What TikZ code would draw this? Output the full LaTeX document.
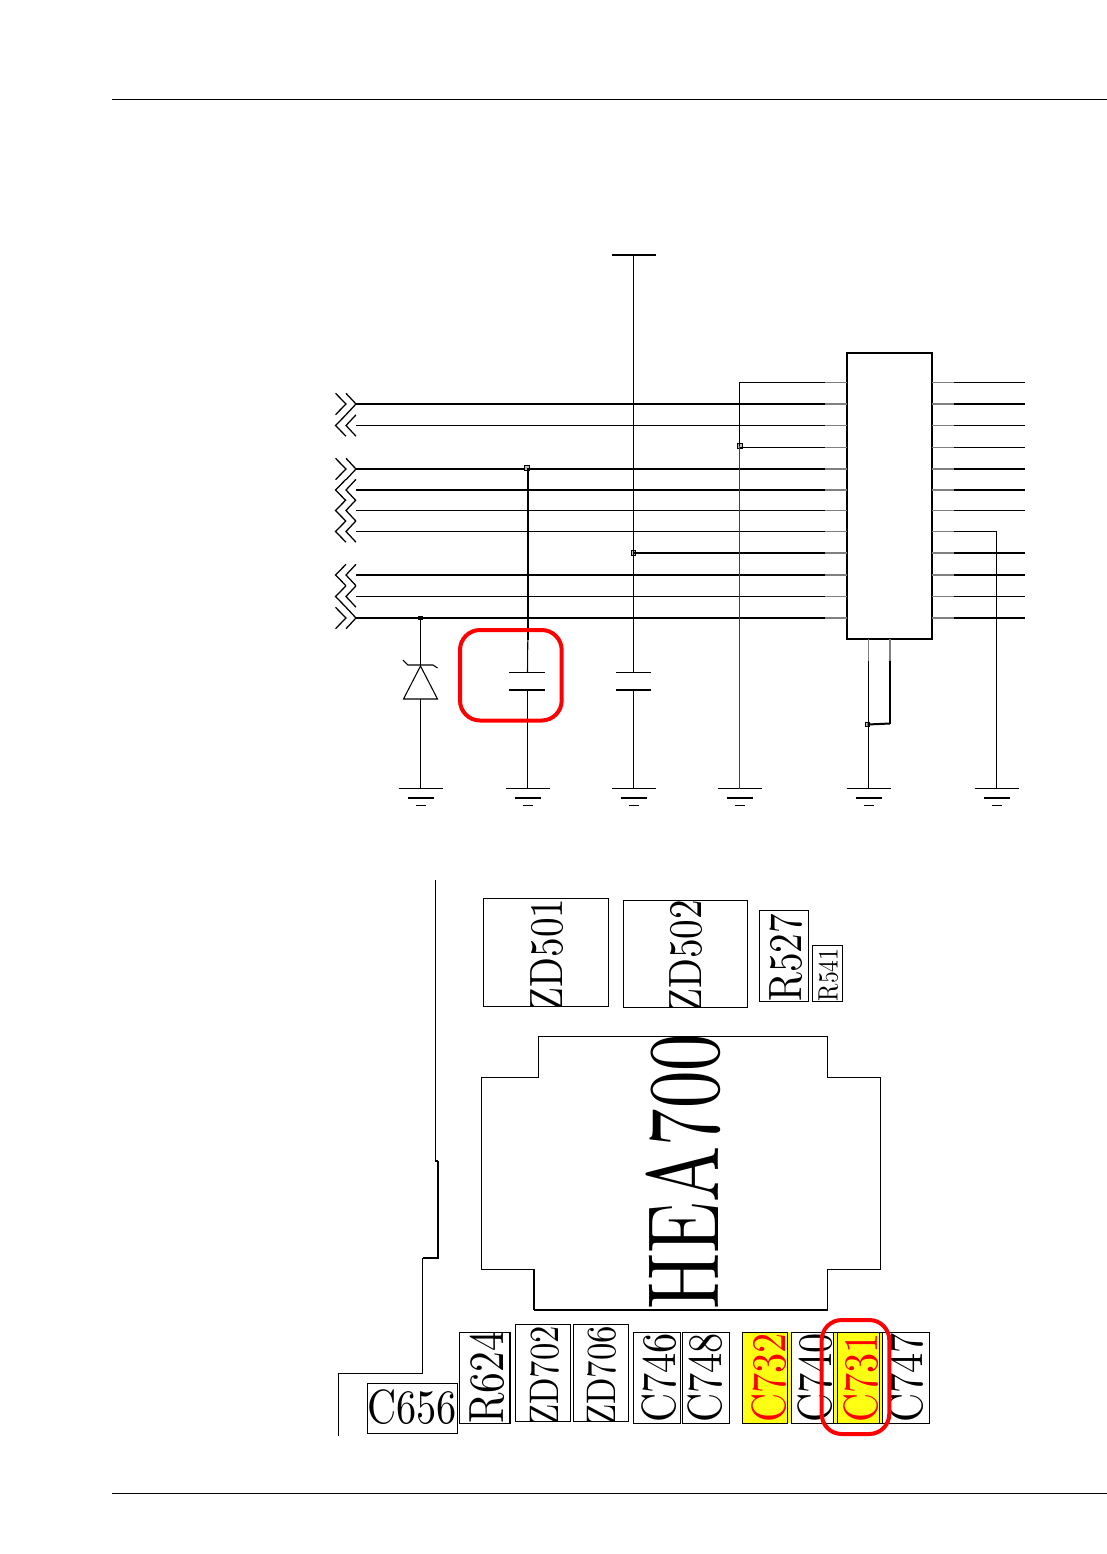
\documentclass[tikz,border=0pt]{standalone}
\definecolor{markyellow}{RGB}{255,255,20}
\tikzset{
    wire/.style={line width=0.8pt},
    bus/.style={line width=1.5pt},
    stub/.style={line width=0.9pt, black!50},
    chevron/.style={line width=0.95pt},
    joint/.style={shape=rectangle, draw, fill=black!25, line width=0.85pt, inner sep=0pt, minimum size=3.2pt},
    ringmark/.style={draw=red, line width=3pt, rounded corners=15pt},
    partbox/.style={line width=0.75pt},
    partlabel/.style={rotate=90, xscale=0.84, inner sep=0pt, anchor=base west},
}
\newcommand{\sizedlabel}[2]{\scalebox{#1}{\fontsize{10}{10}\selectfont #2}}
\begin{document}
\begin{tikzpicture}[x=0.75pt, y=-0.75pt]
    \useasboundingbox (0,0) rectangle (1107,1554);

    % page rules
    \coordinate (ruleAl) at (112,99.5);
    \coordinate (ruleAr) at (1107,99.5);
    \coordinate (ruleBl) at (112,1493.5);
    \coordinate (ruleBr) at (1107,1493.5);
    \draw[wire] (ruleAl) -- (ruleAr);
    \draw[wire] (ruleBl) -- (ruleBr);

    % chip
    \node[draw, line width=0.9pt, minimum width=63.75pt, minimum height=214.5pt, inner sep=0pt] (chip) at (889.5,496) {};

    % rows on both sides of the chip
    \foreach \y/\kind [count=\r] in {382.5/wire,404/bus,425.5/wire,447.5/wire,469/bus,490/bus,510.5/wire,531.5/wire,553/bus,575/bus,596.5/wire,618/bus} {
        \coordinate (pl\r) at (847,\y);
        \coordinate (ql\r) at (825,\y);
        \coordinate (pr\r) at (932,\y);
        \coordinate (qr\r) at (954,\y);
        \coordinate (er\r) at (1025,\y);
        \coordinate (el\r) at (356,\y);
        \draw[stub] (pl\r) -- (ql\r);
        \draw[stub] (pr\r) -- (qr\r);
    };
    \foreach \r/\kind in {1/wire,2/bus,3/wire,4/wire,5/bus,6/bus,7/wire,9/bus,10/bus,11/wire,12/bus} {
        \draw[\kind] (qr\r) -- (er\r);
    };

    % left side wires and connectors
    \foreach \r/\kind in {2/bus,3/wire,5/bus,6/bus,7/wire,8/wire,10/bus,11/wire,12/bus} {
        \draw[\kind] (el\r) -- (ql\r);
    };
    \foreach \r in {2,5,12} {
        \draw[chevron, shift={(el\r)}] (-20.5,-10.7) -- (-10,0) -- (-20.5,10.7);
        \draw[chevron, shift={(el\r)}] (-10,-10.7) -- (0,0) -- (-10,10.7);
    };
    \foreach \r in {3,6,7,8,10,11} {
        \draw[chevron, shift={(el\r)}] (-10,-10.7) -- (-20.5,0) -- (-10,10.7);
        \draw[chevron, shift={(el\r)}] (0,-10.7) -- (-10,0) -- (0,10.7);
    };

    % grounds
    \foreach \name/\x in {gA/420.5,gB/527.5,gC/633.5,gD/739.5,gE/868.5,gF/996.5} {
        \coordinate (\name) at (\x,788.5);
        \draw[wire, shift={(\name)}] (-22,0) -- (22,0);
        \draw[wire, shift={(\name)}] (-13,9.5) -- (13,9.5);
        \draw[wire, shift={(\name)}] (-5,17) -- (5,17);
    };

    % zener
    \node[shape=rectangle, fill=black, inner sep=0pt, minimum width=3.8pt, minimum height=2.4pt] (jZ) at (420.5,618) {};
    \coordinate (zTip) at (420.5,666);
    \coordinate (zBase) at (420.5,699);
    \draw[wire] (jZ.center) -- (zTip);
    \draw[wire] (zTip) -- (437.5,699) -- (403.5,699) -- cycle;
    \draw[wire] (403,660) -- (408,665) -- (433,665) -- (437.5,668);
    \draw[wire] (zBase) -- (gA);

    % first capacitor
    \node[joint] (jB) at (527,468) {};
    \coordinate (bTop) at (527.8,468);
    \coordinate (bA) at (527.8,640);
    \coordinate (bB) at (527.5,672.5);
    \coordinate (bC) at (527.5,690);
    \draw[bus] (bTop) -- (bA);
    \draw[wire] (bA) -- (bB);
    \draw[wire] (509,672.5) -- (545,672.5);
    \draw[wire] (509,690) -- (545,690);
    \draw[wire] (bC) -- (gB);

    % second capacitor and supply bar
    \coordinate (cTop) at (633.5,255);
    \coordinate (cA) at (633.5,672.5);
    \coordinate (cB) at (633.5,690);
    \node[joint] (jC) at (633.5,553) {};
    \draw[wire] (612,255) -- (656,255);
    \draw[wire] (cTop) -- (cA);
    \draw[wire] (616,672.5) -- (651,672.5);
    \draw[wire] (616,690) -- (651,690);
    \draw[wire] (cB) -- (gC);
    \draw[bus] (jC.center) -- (ql9);

    % ground rail
    \node[joint] (jD) at (740,446) {};
    \draw[wire] (ql1) -- (739.5,382.5) -- (739.5,446);
    \draw[wire] (jD.center |- ql4) -- (ql4);
    \draw[line width=0.9pt, black!75] (739.5,446) -- (gD);

    % chip bottom pins
    \coordinate (pinA) at (868.5,639);
    \coordinate (pinB) at (890,639);
    \coordinate (pinAe) at (868.5,661);
    \coordinate (pinBe) at (890,661);
    \node[joint] (jE) at (867.5,724.5) {};
    \draw[stub] (pinA) -- (pinAe);
    \draw[stub] (pinB) -- (pinBe);
    \draw[wire] (pinAe) -- (gE);
    \draw[wire] (pinBe) -- (890,723.5);
    \draw[bus] (890,723.5) -- (jE.center);

    % right return to ground
    \draw[wire] (qr8) -- (996.5,531.5) -- (gF);

    % rings
    \draw[ringmark] (460,630) rectangle (561.7,720.5);

    % board outline
    \draw[wire] (435.5,880) -- (435.5,1161) -- (437.7,1161);
    \draw[bus] (437.7,1161) -- (437.7,1258) -- (422.7,1258);
    \draw[wire] (422.5,1258) -- (422.5,1373.5) -- (338.5,1373.5) -- (338.5,1436);
    \draw[wire] (538.5,1077.5) -- (538.5,1036.5) -- (827.5,1036.5) -- (827.5,1077.5) -- (880.5,1077.5) -- (880.5,1269.5) -- (827.5,1269.5) -- (827.5,1310) -- (534,1310);
    \draw[line width=0.95pt] (534,1310) -- (534,1269.5) -- (481.5,1269.5) -- (481.5,1077.5) -- (538.5,1077.5);

    % part outlines, filled parts first
    \fill[markyellow] (742.3,1332.3) rectangle (791.7,1423.3);
    \fill[markyellow] (833.3,1332.3) rectangle (883.3,1423.3);
    \foreach \name/\xa/\ya/\xb/\yb/\bx/\by/\sz/\tc in {
        ZD501/483.5/898.5/608.5/1006.5/562.7/1011.7/3.5/black,
        ZD502/623.5/900.5/747.5/1007.5/701.7/1013/3.5/black,
        R527/759.5/910.5/808.5/1001.5/801.7/1002/3.5/black,
        R541/812.5/945.5/842.5/1001.5/837.7/1001.5/2.1/black,
        R624/459.5/1332.5/510/1423.5/503.3/1424/3.7/black,
        ZD702/515.5/1324.5/570.5/1421.5/558.3/1426/3.1/black,
        ZD706/573.5/1324.5/628.5/1421.5/615.7/1426/3.1/black,
        C746/633.5/1332.5/680/1423.5/675/1423/3.6/black,
        C748/682/1332.5/729.5/1423.5/721.7/1423/3.6/black,
        C732/742.5/1332.5/787.5/1423.5/785/1423/3.6/red,
        C740/791.7/1332.5/837.7/1423.5/831.7/1423/3.6/black,
        C731/833.5/1332.5/882/1423.5/877/1423/3.6/red,
        C747/879.3/1332.5/929.5/1423.5/922.7/1423/3.6/black} {
        \begin{scope}
            \clip (\xa,\ya) rectangle (\xb,\yb);
            \node[partlabel, text=\tc] (\name) at (\bx,\by) {\sizedlabel{\sz}{\name}};
        \end{scope}
        \draw[partbox] (\xa,\ya) rectangle (\xb,\yb);
    };
    \draw[partbox] (791.7,1332.5) -- (791.7,1423.5);
    \draw[partbox] (879.3,1332.5) -- (879.3,1423.5);
    \draw[line width=1pt] (510,1332.5) -- (510,1423.5);

    \draw[partbox] (367.5,1383.5) rectangle (457.5,1433.5);
    \node[inner sep=0pt, anchor=base west, xscale=0.84] (C656) at (367,1423) {\sizedlabel{3.6}{C656}};

    \node[partlabel, xscale=0.88] (HEA700) at (718,1310) {\sizedlabel{7.6}{HEA700}};

    \draw[ringmark] (821.7,1320) rectangle (889.3,1434);
\end{tikzpicture}
\end{document}
